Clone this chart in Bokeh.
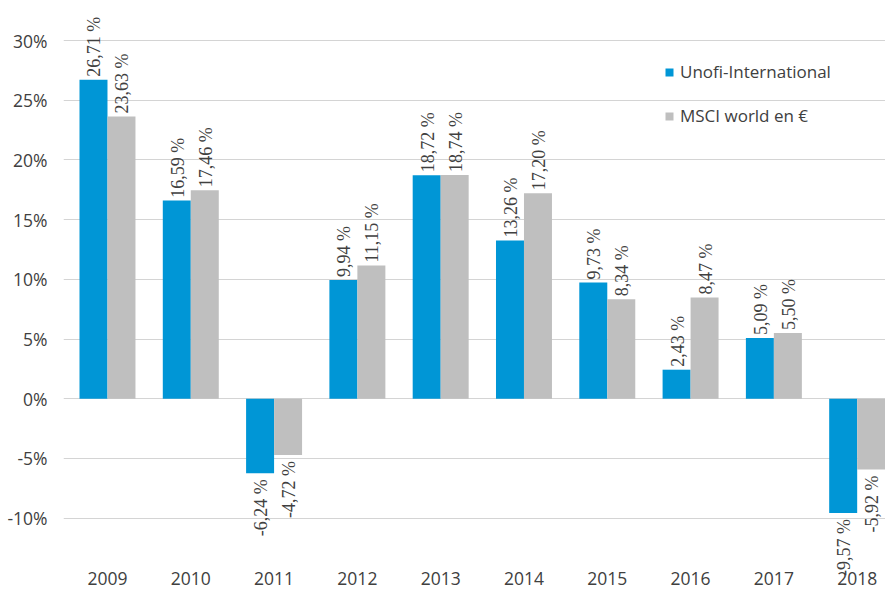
import math
from bokeh.plotting import figure
from bokeh.models import (ColumnDataSource, Range1d, FixedTicker, PrintfTickFormatter,
                          Legend, LegendItem, LabelSet)
from bokeh.transform import dodge
from bokeh.embed import file_html
from bokeh.resources import INLINE

# ---- data ----
years = ["2009", "2010", "2011", "2012", "2013", "2014", "2015", "2016", "2017", "2018"]
unofi = [26.71, 16.59, -6.24, 9.94, 18.72, 13.26, 9.73, 2.43, 5.09, -9.57]
msci = [23.63, 17.46, -4.72, 11.15, 18.74, 17.20, 8.34, 8.47, 5.50, -5.92]
series_names = ["Unofi-International", "MSCI world en €"]
y_ticks = [-10, -5, 0, 5, 10, 15, 20, 25, 30]

BLUE = "#0096d6"
GRAY = "#bfbfbf"
TXT = "#404040"
FONT = "Open Sans"

idx = list(range(len(years)))
BW = 0.336

def fmt(v):
    return ("%.2f" % v).replace(".", ",") + " %"

src = ColumnDataSource(dict(x=idx, unofi=unofi, msci=msci))

p = figure(width=885, height=592, output_backend="svg", toolbar_location=None,
           x_range=Range1d(-0.528, 9.34), y_range=Range1d(-16.23, 33.35),
           min_border_left=63, min_border_right=0, min_border_top=0, min_border_bottom=0)
p.outline_line_color = None
p.background_fill_color = "white"
p.border_fill_color = "white"

r1 = p.vbar(x=dodge("x", -BW / 2, range=p.x_range), top="unofi", width=BW, bottom=0,
            source=src, fill_color=BLUE, line_color=None)
r2 = p.vbar(x=dodge("x", BW / 2, range=p.x_range), top="msci", width=BW, bottom=0,
            source=src, fill_color=GRAY, line_color=None)

# data labels
for vals, off in ((unofi, -BW / 2), (msci, BW / 2)):
    pos = dict(x=[i for i in idx if vals[i] >= 0], y=[v for v in vals if v >= 0],
               t=[fmt(v) for v in vals if v >= 0])
    neg = dict(x=[i for i in idx if vals[i] < 0], y=[v for v in vals if v < 0],
               t=[fmt(v) for v in vals if v < 0])
    p.add_layout(LabelSet(x=dodge("x", off, range=p.x_range), y="y", text="t",
                          source=ColumnDataSource(pos),
                          angle=math.pi / 2, text_align="left", text_baseline="middle",
                          text_font=FONT, text_font_size="18px", text_color=TXT,
                          x_offset=1, y_offset=3))
    p.add_layout(LabelSet(x=dodge("x", off, range=p.x_range), y="y", text="t",
                          source=ColumnDataSource(neg),
                          angle=math.pi / 2, text_align="right", text_baseline="middle",
                          text_font=FONT, text_font_size="18px", text_color=TXT,
                          x_offset=1, y_offset=-6))

# axes
p.xaxis.ticker = FixedTicker(ticks=idx)
p.xaxis.major_label_overrides = {i: y for i, y in zip(idx, years)}
p.xaxis.fixed_location = -12.3
p.xaxis.axis_line_color = None
p.xaxis.major_tick_line_color = None
p.xaxis.minor_tick_line_color = None
p.xaxis.major_tick_out = 0
p.xaxis.major_label_standoff = 26
p.xaxis.major_label_text_font = FONT
p.xaxis.major_label_text_font_size = "17.5px"
p.xaxis.major_label_text_color = TXT

p.yaxis.ticker = FixedTicker(ticks=y_ticks)
p.yaxis.formatter = PrintfTickFormatter(format="%d%%")
p.yaxis.axis_line_color = None
p.yaxis.major_tick_line_color = None
p.yaxis.minor_tick_line_color = None
p.yaxis.major_tick_out = 0
p.yaxis.major_label_standoff = 16
p.yaxis.major_label_text_font = FONT
p.yaxis.major_label_text_font_size = "17.5px"
p.yaxis.major_label_text_color = TXT

p.xgrid.grid_line_color = None
p.ygrid.grid_line_color = "#d4d4d4"
p.ygrid.grid_line_width = 1

legend = Legend(items=[LegendItem(label=series_names[0], renderers=[r1]),
                       LegendItem(label=series_names[1], renderers=[r2])],
                location=(601, 465), orientation="vertical",
                glyph_width=10, glyph_height=10, label_height=22, spacing=21,
                padding=0, margin=0, label_standoff=6,
                label_text_font=FONT, label_text_font_size="17px", label_text_color=TXT,
                label_text_baseline="middle",
                border_line_color=None, background_fill_alpha=0)
p.add_layout(legend, "center")

open("out.html", "w").write(file_html(p, INLINE))
